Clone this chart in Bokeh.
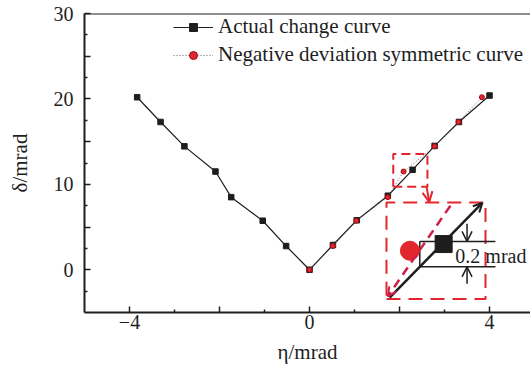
from bokeh.plotting import figure
from bokeh.models import Range1d, FixedTicker, Span, Label, Arrow, OpenHead
from bokeh.embed import file_html
from bokeh.resources import INLINE

# ---- data ----
actual_x = [-3.83, -3.31, -2.78, -2.09, -1.74, -1.04, -0.52, 0.0,
            0.52, 1.05, 1.74, 2.29, 2.78, 3.32, 4.0]
actual_y = [20.2, 17.3, 14.45, 11.5, 8.5, 5.74, 2.78, 0.0,
            2.9, 5.8, 8.67, 11.7, 14.5, 17.3, 20.4]
neg_x = [0.0, 0.52, 1.04, 1.74, 2.09, 2.78, 3.31, 3.83]
neg_y = [0.0, 2.78, 5.74, 8.5, 11.5, 14.45, 17.3, 20.2]

x_ticks = [-4, -2, 0, 2, 4]
x_minor = [-3, -1, 1, 3]
x_labels = {-4: "\u22124", -2: "", 0: "0", 2: "", 4: "4"}
y_ticks = [0, 5, 10, 15, 20, 25, 30]
y_minor = [-2.5, 2.5, 7.5, 12.5, 17.5, 22.5, 27.5]
y_labels = {0: "0", 5: "", 10: "10", 15: "", 20: "20", 25: "", 30: "30"}

label_actual = "Actual change curve"
label_neg = "Negative deviation symmetric curve"
dim_text = "0.2 mrad"
x_title = "\u03b7/mrad"
y_title = "\u03b4/mrad"

FONT = "Liberation Serif"
RED = "#e3262d"
DRED = "#cc1f4a"
BLACK = "#1e1e1e"

p = figure(width=530, height=372, x_range=Range1d(-5, 4.91), y_range=Range1d(-5, 30),
           output_backend="svg", toolbar_location=None,
           min_border_left=84, min_border_right=0, min_border_top=13, min_border_bottom=60)
p.xgrid.visible = False
p.ygrid.visible = False
p.outline_line_color = None
p.background_fill_color = "white"

for ax in (p.xaxis[0], p.yaxis[0]):
    ax.axis_line_width = 2
    ax.axis_line_color = BLACK
    ax.major_tick_line_color = BLACK
    ax.minor_tick_line_color = BLACK
    ax.major_tick_line_width = 1.5
    ax.minor_tick_line_width = 1.5
    ax.major_tick_in = 6
    ax.major_tick_out = 0
    ax.minor_tick_in = 3
    ax.minor_tick_out = 0
    ax.major_label_text_font = FONT
    ax.major_label_text_font_size = "20px"
    ax.major_label_text_color = BLACK
    ax.axis_label_text_font = FONT
    ax.axis_label_text_font_size = "21px"
    ax.axis_label_text_font_style = "normal"
    ax.axis_label_text_color = BLACK

p.xaxis.ticker = FixedTicker(ticks=x_ticks, minor_ticks=x_minor)
p.xaxis.major_label_overrides = x_labels
p.xaxis.major_label_standoff = 2
p.xaxis.axis_label = x_title
p.xaxis.axis_label_standoff = 8
p.yaxis.ticker = FixedTicker(ticks=y_ticks, minor_ticks=y_minor)
p.yaxis.major_label_overrides = y_labels
p.yaxis.major_label_standoff = 11
p.yaxis.axis_label = y_title
p.yaxis.axis_label_standoff = 19

# top frame line
p.add_layout(Span(location=30, dimension="width", line_color=BLACK, line_width=2))

# series
p.line(actual_x, actual_y, line_color=BLACK, line_width=1.2, legend_label=label_actual)
p.scatter(actual_x, actual_y, marker="square", size=5.5, fill_color=BLACK, line_color=BLACK,
          legend_label=label_actual)
p.line(neg_x, neg_y, line_color="#666666", line_width=1, line_dash="1 2", legend_label=label_neg)
p.scatter(neg_x, neg_y, marker="circle", size=5, fill_color=RED, line_color="#9b0c14",
          legend_label=label_neg)

lg = p.legend[0]
lg.location = (89, 245)
lg.background_fill_alpha = 0
lg.border_line_color = None
lg.padding = 0
lg.margin = 0
lg.spacing = 3
lg.glyph_width = 40
lg.glyph_height = 20
lg.label_height = 20
lg.label_standoff = 5
lg.label_text_font = FONT
lg.label_text_font_size = "21px"
lg.label_text_color = BLACK

# ---- inset annotation ----
p.line([1.86, 2.62, 2.62, 1.86, 1.86], [9.73, 9.73, 13.56, 13.56, 9.73],
       line_color=RED, line_width=2, line_dash="9 5")
p.line([1.71, 3.91, 3.91, 1.71, 1.71], [-3.43, -3.43, 7.89, 7.89, -3.43],
       line_color=RED, line_width=2, line_dash="14 8")
p.add_layout(Arrow(x_start=2.6, y_start=9.73, x_end=2.66, y_end=7.95,
                   line_color=RED, line_width=2,
                   end=OpenHead(size=10, line_color=RED, line_width=2)))
p.add_layout(Arrow(x_start=1.78, y_start=-3.25, x_end=3.84, y_end=7.82,
                   line_color=BLACK, line_width=2.5,
                   end=OpenHead(size=9, line_color=BLACK, line_width=2)))
p.add_layout(Arrow(x_start=3.13, y_start=7.5, x_end=1.74, y_end=-3.1,
                   line_color=DRED, line_width=2.5, line_dash="9 6",
                   end=OpenHead(size=9, line_color=DRED, line_width=2)))
p.line([2.45, 4.13], [3.32, 3.32], line_color=BLACK, line_width=1.5)
p.line([2.45, 4.13], [0.35, 0.35], line_color=BLACK, line_width=1.5)
p.line([2.45, 2.45], [0.35, 3.32], line_color=BLACK, line_width=1.5)
p.scatter([2.23], [2.23], marker="circle", size=19, fill_color=RED, line_color=RED)
p.scatter([2.98], [3.01], marker="square", size=17, fill_color=BLACK, line_color=BLACK)
p.add_layout(Arrow(x_start=3.5, y_start=5.39, x_end=3.5, y_end=3.32, line_color=BLACK,
                   line_width=1.5, end=OpenHead(size=10, line_color=BLACK, line_width=1.5)))
p.add_layout(Arrow(x_start=3.5, y_start=-1.64, x_end=3.5, y_end=0.35, line_color=BLACK,
                   line_width=1.5, end=OpenHead(size=10, line_color=BLACK, line_width=1.5)))
p.add_layout(Label(x=3.24, y=1.64, text=dim_text, text_font=FONT, text_font_size="20px",
                   text_color=BLACK, text_align="left", text_baseline="middle"))

open("out.html", "w").write(file_html(p, INLINE))
